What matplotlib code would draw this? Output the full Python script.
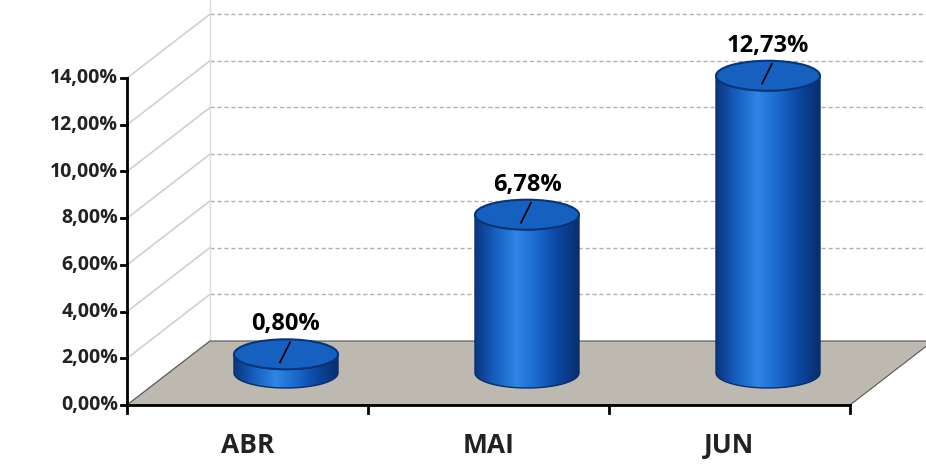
import numpy as np
import matplotlib.pyplot as plt
from matplotlib.patches import Polygon, Ellipse, PathPatch
from matplotlib.path import Path
from matplotlib.colors import LinearSegmentedColormap

categories = ['ABR', 'MAI', 'JUN']
values = [0.80, 6.78, 12.73]
value_labels = ['0,80%', '6,78%', '12,73%']
ticks = [0, 2, 4, 6, 8, 10, 12, 14]
tick_labels = ['0,00%', '2,00%', '4,00%', '6,00%', '8,00%', '10,00%', '12,00%', '14,00%']

W, H = 926, 465
fig = plt.figure(figsize=(W / 100, H / 100), dpi=100)
ax = fig.add_axes([0, 0, 1, 1])
ax.set_xlim(0, W)
ax.set_ylim(H, 0)
ax.axis('off')

x0, x1, y0 = 127, 850, 405
scale = 23.35          # px per 1%
dx, dy = 83, -64       # depth offset
font = 'Open Sans'

def ypx(v, depth=0.0):
    return y0 + dy * depth - v * scale

# floor
ax.add_patch(Polygon([(x0, y0), (x1, y0), (x1 + dx, y0 + dy), (x0 + dx, y0 + dy)],
                     closed=True, fc='#bdb9b0', ec='#555555', lw=0.8, zorder=1))
# grid lines
for t in ticks:
    ax.plot([x0, x0 + dx], [ypx(t), ypx(t, 1)], color='#d0d0d0', lw=1.2, zorder=0.5)
    if t > 0:
        ax.plot([x0 + dx, W], [ypx(t, 1), ypx(t, 1)], color='#b0b0b0', lw=1, ls=(0, (3, 2)), zorder=0.5)
ax.plot([x0 + dx, x0 + dx], [ypx(0, 1), ypx(14, 1) - 46], color='#dddddd', lw=1, zorder=0.5)

# axes
ax.plot([x0, x0], [y0, ypx(14)], color='black', lw=2, zorder=5)
ax.plot([x0, x1], [y0, y0], color='black', lw=2, zorder=5)
for t, lab in zip(ticks, tick_labels):
    ax.plot([x0 - 6, x0], [ypx(t), ypx(t)], color='black', lw=2, zorder=5)
    ax.text(x0 - 9, ypx(t), lab, ha='right', va='center', fontsize=14,
            fontweight='bold', family=font, color='#222222')
n = len(categories)
step = (x1 - x0) / n
for i in range(n + 1):
    ax.plot([x0 + i * step] * 2, [y0, y0 + 8], color='black', lw=2, zorder=5)

cmap = LinearSegmentedColormap.from_list('cyl', ['#0a3680', '#1660c0', '#2f85e6', '#1a68cc', '#0c46a0', '#082e6e'])
rw, rh = 52, 15
for i, (cat, v, lab) in enumerate(zip(categories, values, value_labels)):
    cx = x0 + (i + 0.5) * step + dx / 2 - 3
    yb = ypx(0, 0.5)
    yt = ypx(v, 0.5)
    th = np.linspace(0, np.pi, 60)
    bottom = [(cx - rw * np.cos(a), yb + rh * np.sin(a)) for a in th]
    top = [(cx - rw * np.cos(a), yt + rh * np.sin(a)) for a in th][::-1]
    body = bottom + top
    path = Path(body + [body[0]], closed=True)
    ax.add_patch(PathPatch(path, fc='none', ec='#0a2f6a', lw=1, zorder=3.1))
    im = ax.imshow(np.linspace(0, 1, 256)[None, :], cmap=cmap, aspect='auto',
                   extent=[cx - rw, cx + rw, yb + rh, yt - rh], zorder=3)
    im.set_clip_path(PathPatch(path, transform=ax.transData))
    ax.add_patch(Ellipse((cx, yt), 2 * rw, 2 * rh, fc='#1660c0', ec='#0a3478', lw=1.5, zorder=3.2))
    ax.plot([cx - 6, cx + 4], [yt + 8, yt - 12], color='black', lw=1.2, zorder=4)
    ax.text(cx, yt - 18, lab, ha='center', va='bottom', fontsize=17,
            fontweight='bold', family=font, color='black', zorder=6)
    ax.text(x0 + (i + 0.5) * step, 445, cat, ha='center', va='center', fontsize=19,
            fontweight='bold', family=font, color='#222222')

fig.savefig('out.png', dpi=100)
